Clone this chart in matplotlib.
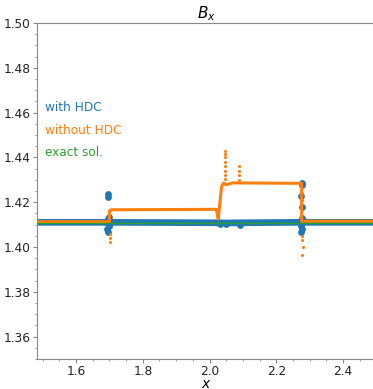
import numpy as np
import matplotlib
matplotlib.use("Agg")
import matplotlib.pyplot as plt
from matplotlib.ticker import AutoMinorLocator

# with HDC: flat profile plus scattered points at the two discontinuities
hdc_x = [1.483, 1.696, 2.03, 2.05, 2.09, 2.276, 2.5]
hdc_y = [1.4110, 1.4110, 1.4108, 1.4107, 1.4108, 1.4110, 1.4110]
hdc_out_x = [1.696, 1.697, 1.699, 1.696, 1.692, 1.700, 1.694, 1.699, 1.696, 1.691, 1.702,
             2.276, 2.277, 2.275, 2.276, 2.277, 2.279, 2.274, 2.276, 2.275, 2.278, 2.272,
             2.03, 2.05, 2.09]
hdc_out_y = [1.4238, 1.4222, 1.4135, 1.4125, 1.4118, 1.4095, 1.4080, 1.4100, 1.4065, 1.4110, 1.4112,
             1.4286, 1.4275, 1.4228, 1.4178, 1.4130, 1.4120, 1.4095, 1.4080, 1.4068, 1.4115, 1.4110,
             1.4103, 1.4102, 1.4100]

# without HDC: two plateaus with overshoots
nohdc_x = [1.483, 1.700, 1.700, 1.705, 2.020, 2.026, 2.036, 2.042, 2.050, 2.070, 2.276, 2.276, 2.5]
nohdc_y = [1.4113, 1.4113, 1.4160, 1.4166, 1.4168, 1.4125, 1.4270, 1.4285, 1.4278, 1.4286, 1.4284, 1.4115, 1.4115]
nohdc_out_x = [1.701, 1.701, 1.702, 2.045, 2.045, 2.045, 2.046, 2.046, 2.046, 2.047, 2.047,
               2.088, 2.088, 2.088, 2.089, 2.277, 2.277, 2.278, 2.278, 2.279, 2.278]
nohdc_out_y = [1.4060, 1.4040, 1.4020, 1.4305, 1.4320, 1.4340, 1.4360, 1.4380, 1.4400, 1.4415, 1.4430,
               1.4300, 1.4320, 1.4340, 1.4360, 1.4240, 1.4210, 1.4050, 1.4030, 1.4000, 1.3962]

exact_x = [1.483, 2.5]
exact_y = [1.4107, 1.4107]

blue, orange, green = '#1f77b4', '#ff7f0e', '#2ca02c'
fs = 8.7

fig = plt.figure(figsize=(3.73, 3.89), dpi=100)
ax = fig.add_axes([0.0992, 0.0771, 0.91, 0.864])

ax.plot(hdc_x, hdc_y, color=blue, lw=4.8, solid_capstyle='butt', zorder=2)
ax.scatter(hdc_out_x, hdc_out_y, s=24, color=blue, zorder=2, linewidths=0)
ax.plot(nohdc_x, nohdc_y, color=orange, lw=2.2, zorder=3)
ax.scatter(nohdc_out_x, nohdc_out_y, s=5, color=orange, zorder=3, linewidths=0)
ax.plot(exact_x, exact_y, color=green, lw=1.0, zorder=4)

ax.set_xlim(1.483, 2.5)
ax.set_ylim(1.35, 1.50)
ax.set_xticks([1.6, 1.8, 2.0, 2.2, 2.4])
ax.set_yticks([1.36, 1.38, 1.40, 1.42, 1.44, 1.46, 1.48, 1.50])
ax.xaxis.set_minor_locator(AutoMinorLocator(4))
ax.yaxis.set_minor_locator(AutoMinorLocator(4))
ax.tick_params(labelsize=fs, colors='#222222', length=3, pad=1.5)
ax.tick_params(which='minor', length=1.5)
ax.tick_params(which='both', color='#888888')
for s in ax.spines.values():
    s.set_color('#888888')

ax.set_title('$B_x$', fontsize=11, pad=1.5)
ax.set_xlabel('$x$', fontsize=10, labelpad=-1)

ax.text(0.024, 0.747, 'with HDC', color=blue, fontsize=fs, va='center', transform=ax.transAxes)
ax.text(0.024, 0.679, 'without HDC', color=orange, fontsize=fs, va='center', transform=ax.transAxes)
ax.text(0.024, 0.613, 'exact sol.', color=green, fontsize=fs, va='center', transform=ax.transAxes)

fig.savefig('out.png', dpi=100)
